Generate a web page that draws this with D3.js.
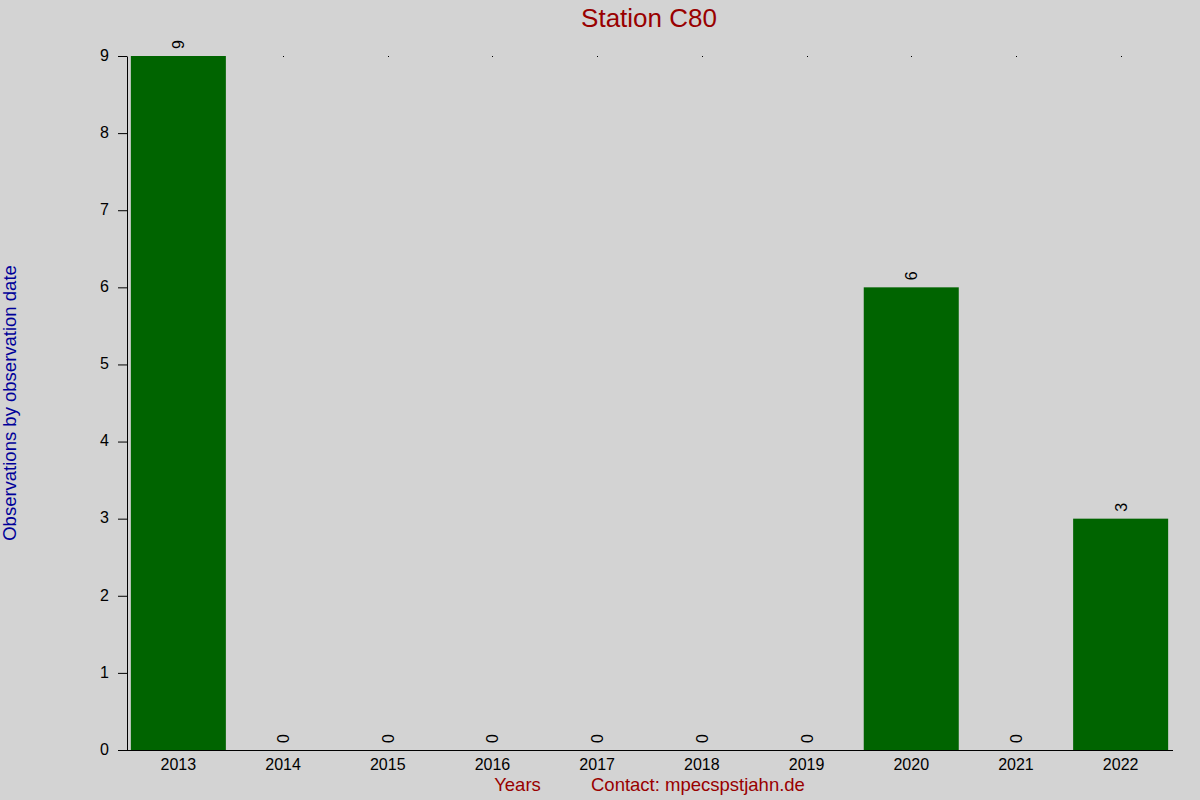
<!DOCTYPE html>
<html>
<head>
<meta charset="utf-8">
<script src="https://cdn.jsdelivr.net/npm/d3@7"></script>
<style>
  body { margin: 0; background: #d3d3d3; }
  svg { display: block; font-family: Arial, "Liberation Sans", sans-serif; }
</style>
</head>
<body>
<div id="chart"></div>
<script>
const years = ["2013", "2014", "2015", "2016", "2017", "2018", "2019", "2020", "2021", "2022"];
const counts = [9, 0, 0, 0, 0, 0, 0, 6, 0, 3];
const yTicks = [0, 1, 2, 3, 4, 5, 6, 7, 8, 9];

const data = years.map((y, i) => ({year: y, value: counts[i]}));

// size and plot box
const width = 1200;
const height = 800;
const plotLeft = 127, plotRight = 1173, plotTop = 56, plotBottom = 750;

const svg = d3.select("#chart")
  .append("svg")
    .attr("width", width)
    .attr("height", height);

svg.append("rect")
  .attr("width", width)
  .attr("height", height)
  .attr("fill", "#d3d3d3");

// scales
const x = d3.scaleBand()
  .domain(years)
  .range([plotLeft - 1, plotRight])
  .paddingInner(0.0925)
  .paddingOuter(0.04625);

const y = d3.scaleLinear()
  .domain([0, 9])
  .range([plotBottom, plotTop]);

// y axis
const yAxis = svg.append("g")
  .attr("transform", "translate(" + plotLeft + ",0)")
  .call(d3.axisLeft(y).tickValues(yTicks).tickSize(9).tickSizeOuter(0).tickPadding(9));
yAxis.attr("font-size", null).attr("font-family", null);
yAxis.selectAll("text")
  .attr("font-size", "16px")
  .attr("fill", "#000")
  .attr("dy", "0.27em");
yAxis.select(".domain").attr("stroke", "#000");

// bars
svg.selectAll("rect.bar")
  .data(data)
  .enter()
  .append("rect")
    .attr("class", "bar")
    .attr("x", d => x(d.year))
    .attr("y", d => y(d.value))
    .attr("width", x.bandwidth())
    .attr("height", d => plotBottom - y(d.value))
    .attr("fill", "#006400");

// tiny marks at the top of each column
svg.selectAll("rect.dot")
  .data(data.filter(d => d.value < 9))
  .enter()
  .append("rect")
    .attr("class", "dot")
    .attr("x", d => Math.round(x(d.year) + x.bandwidth() / 2))
    .attr("y", Math.round(y(9)))
    .attr("width", 1)
    .attr("height", 1)
    .attr("shape-rendering", "crispEdges")
    .attr("fill", "#000");

// x axis
svg.append("line")
  .attr("x1", plotLeft - 9)
  .attr("x2", plotRight)
  .attr("y1", plotBottom + 0.5)
  .attr("y2", plotBottom + 0.5)
  .attr("stroke", "#000");

svg.selectAll("text.xlab")
  .data(years)
  .enter()
  .append("text")
    .attr("class", "xlab")
    .attr("x", d => x(d) + x.bandwidth() / 2)
    .attr("y", plotBottom + 20)
    .attr("text-anchor", "middle")
    .attr("font-size", "16px")
    .text(d => d);

// value labels
svg.selectAll("text.val")
  .data(data)
  .enter()
  .append("text")
    .attr("class", "val")
    .attr("transform", d => "translate(" + (x(d.year) + x.bandwidth() / 2 + 6) + "," + (y(d.value) - 7) + ") rotate(-90)")
    .attr("font-size", "16px")
    .text(d => d.value);

// titles
svg.append("text")
  .attr("x", 649)
  .attr("y", 27)
  .attr("text-anchor", "middle")
  .attr("font-size", "26px")
  .attr("fill", "#990000")
  .text("Station C80");

svg.append("text")
  .attr("transform", "translate(16,403) rotate(-90)")
  .attr("text-anchor", "middle")
  .attr("font-size", "18.5px")
  .attr("fill", "#000099")
  .text("Observations by observation date");

svg.append("text")
  .attr("x", 517.5)
  .attr("y", 791)
  .attr("text-anchor", "middle")
  .attr("font-size", "18.5px")
  .attr("fill", "#990000")
  .text("Years");

svg.append("text")
  .attr("x", 591)
  .attr("y", 791)
  .attr("font-size", "18.5px")
  .attr("fill", "#990000")
  .text("Contact: mpecspstjahn.de");
</script>
</body>
</html>
